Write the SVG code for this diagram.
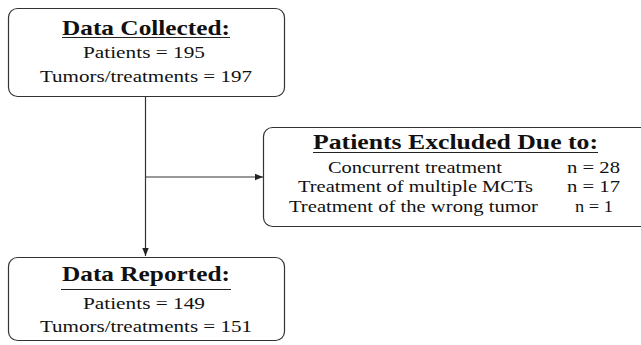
<svg xmlns="http://www.w3.org/2000/svg" width="641" height="345" viewBox="0 0 641 345">
<style>
.box{fill:#fff;stroke:#333;stroke-width:1.2}
.t{font-family:"Liberation Serif","Times New Roman",serif;fill:#111;text-anchor:middle}
.h{font-size:21px;font-weight:bold}
.b{font-size:17px}
.u{stroke:#222;stroke-width:1.2}
.c{stroke:#333;stroke-width:1.2;fill:none}
</style>
<defs>
<marker id="ah" viewBox="0 0 10 10" refX="10" refY="5" markerWidth="8" markerHeight="8" markerUnits="userSpaceOnUse" orient="auto">
<path d="M0,1 L10,5 L0,9 Z" fill="#222"/>
</marker>
</defs>
<rect width="641" height="345" fill="#fff"/>
<g id="connectors">
<line class="c" x1="145.5" y1="96" x2="145.5" y2="256" marker-end="url(#ah)"/>
<line class="c" x1="145.5" y1="177" x2="263" y2="177" marker-end="url(#ah)"/>
</g>
<g id="collected">
<rect class="box" x="8.5" y="8.5" width="276" height="88" rx="9"/>
<text class="t h" x="146" y="35" textLength="168" lengthAdjust="spacingAndGlyphs">Data Collected:</text>
<line class="u" x1="62" y1="37.5" x2="230" y2="37.5"/>
<text class="t b" x="144" y="58" textLength="122" lengthAdjust="spacingAndGlyphs">Patients = 195</text>
<text class="t b" x="146" y="82" textLength="212" lengthAdjust="spacingAndGlyphs">Tumors/treatments = 197</text>
</g>
<g id="excluded">
<rect class="box" x="263.5" y="127.5" width="390" height="99" rx="9"/>
<text class="t h" x="455.5" y="149" textLength="285" lengthAdjust="spacingAndGlyphs">Patients Excluded Due to:</text>
<line class="u" x1="313" y1="152.5" x2="598" y2="152.5"/>
<text class="t b" x="415" y="173" textLength="174" lengthAdjust="spacingAndGlyphs">Concurrent treatment</text>
<text class="t b" x="415.5" y="192" textLength="235" lengthAdjust="spacingAndGlyphs">Treatment of multiple MCTs</text>
<text class="t b" x="413.5" y="212" textLength="249" lengthAdjust="spacingAndGlyphs">Treatment of the wrong tumor</text>
<text class="t b" x="593.5" y="173" textLength="53" lengthAdjust="spacingAndGlyphs">n = 28</text>
<text class="t b" x="593.5" y="192" textLength="53" lengthAdjust="spacingAndGlyphs">n = 17</text>
<text class="t b" x="594" y="212" textLength="38" lengthAdjust="spacingAndGlyphs">n = 1</text>
</g>
<g id="reported">
<rect class="box" x="8.5" y="257.5" width="276" height="83" rx="9"/>
<text class="t h" x="146" y="281" textLength="168" lengthAdjust="spacingAndGlyphs">Data Reported:</text>
<line class="u" x1="61" y1="289.5" x2="231" y2="289.5"/>
<text class="t b" x="144" y="309" textLength="122" lengthAdjust="spacingAndGlyphs">Patients = 149</text>
<text class="t b" x="146" y="332" textLength="212" lengthAdjust="spacingAndGlyphs">Tumors/treatments = 151</text>
</g>
</svg>
